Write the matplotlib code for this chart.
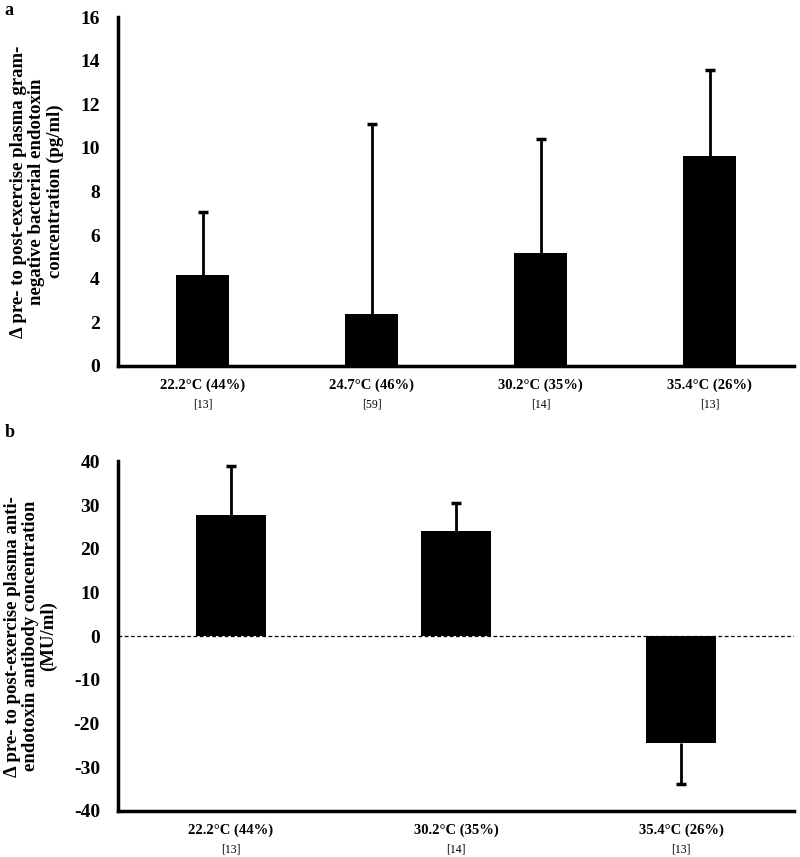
import numpy as np
import matplotlib
matplotlib.use("Agg")
import matplotlib.pyplot as plt

plt.rcParams['font.family'] = ['Liberation Serif', 'DejaVu Serif']
plt.rcParams['axes.unicode_minus'] = False

# panel a - endotoxin
cond_a = ['22.2°C (44%)', '24.7°C (46%)', '30.2°C (35%)', '35.4°C (26%)']
refs_a = ['[13]', '[59]', '[14]', '[13]']
mean_a = [4.17, 2.39, 5.18, 9.62]
err_a = [2.88, 8.71, 5.22, 3.95]

# panel b - anti-endotoxin antibody
cond_b = ['22.2°C (44%)', '30.2°C (35%)', '35.4°C (26%)']
refs_b = ['[13]', '[14]', '[13]']
mean_b = [27.7, 24.1, -24.5]
err_b = [11.2, 6.3, 9.4]

fig = plt.figure(figsize=(8, 8.57), dpi=100)
ax_a = fig.add_axes([0.1475, 0.573, 0.845, 0.407])
ax_b = fig.add_axes([0.1475, 0.0537, 0.845, 0.408])


def style_panel(ax, cond, refs):
    for s in ['top', 'right']:
        ax.spines[s].set_visible(False)
    for s in ['left', 'bottom']:
        ax.spines[s].set_linewidth(2.5)
    ax.tick_params(length=0, axis='y', pad=13, labelsize=14)
    ax.tick_params(length=0, axis='x', pad=9, labelsize=10.5)
    for lab in ax.get_yticklabels():
        lab.set_fontweight('bold')
    x = np.arange(len(cond))
    ax.set_xticks(x)
    ax.set_xticklabels(cond, fontweight='bold')
    for i, r in enumerate(refs):
        ax.text(x[i], -0.11, r, transform=ax.get_xaxis_transform(),
                ha='center', va='center', fontsize=8.5)
    ax.set_xlim(-0.5, len(cond) - 0.5)


def one_sided_err(ax, x, mean, err):
    # error bar goes away from zero only, cap only at the far end
    mean = np.array(mean)
    err = np.array(err)
    tip = mean + np.sign(mean) * err
    ax.vlines(x, mean, tip, color='black', linewidth=2, zorder=3)
    ax.plot(x, tip, linestyle='none', marker='_', markersize=7,
            markeredgewidth=2.5, color='black', zorder=3)


# panel a
xa = np.arange(len(cond_a))
ax_a.bar(xa, mean_a, width=0.31, color='black', zorder=2)
one_sided_err(ax_a, xa, mean_a, err_a)
ax_a.set_ylim(0, 16)
ax_a.set_yticks(np.arange(0, 17, 2))
style_panel(ax_a, cond_a, refs_a)
ax_a.set_ylabel('Δ pre- to post-exercise plasma gram-\nnegative bacterial endotoxin\nconcentration (pg/ml)',
                fontsize=13.5, fontweight='bold', labelpad=12, linespacing=1.08)

# panel b
xb = np.arange(len(cond_b))
ax_b.bar(xb, mean_b, width=0.31, color='black', zorder=2)
one_sided_err(ax_b, xb, mean_b, err_b)
ax_b.axhline(0, color='black', linestyle='--', linewidth=0.9, dashes=(3, 2), zorder=1)
ax_b.set_ylim(-40, 40)
ax_b.set_yticks(np.arange(-40, 41, 10))
style_panel(ax_b, cond_b, refs_b)
ax_b.set_ylabel('Δ pre- to post-exercise plasma anti-\nendotoxin antibody concentration\n(MU/ml)',
                fontsize=13.5, fontweight='bold', labelpad=12, linespacing=1.08)

fig.text(0.006, 0.988, 'a', fontsize=13, fontweight='bold', va='center')
fig.text(0.006, 0.495, 'b', fontsize=13, fontweight='bold', va='center')

fig.savefig('out.png', dpi=100)
